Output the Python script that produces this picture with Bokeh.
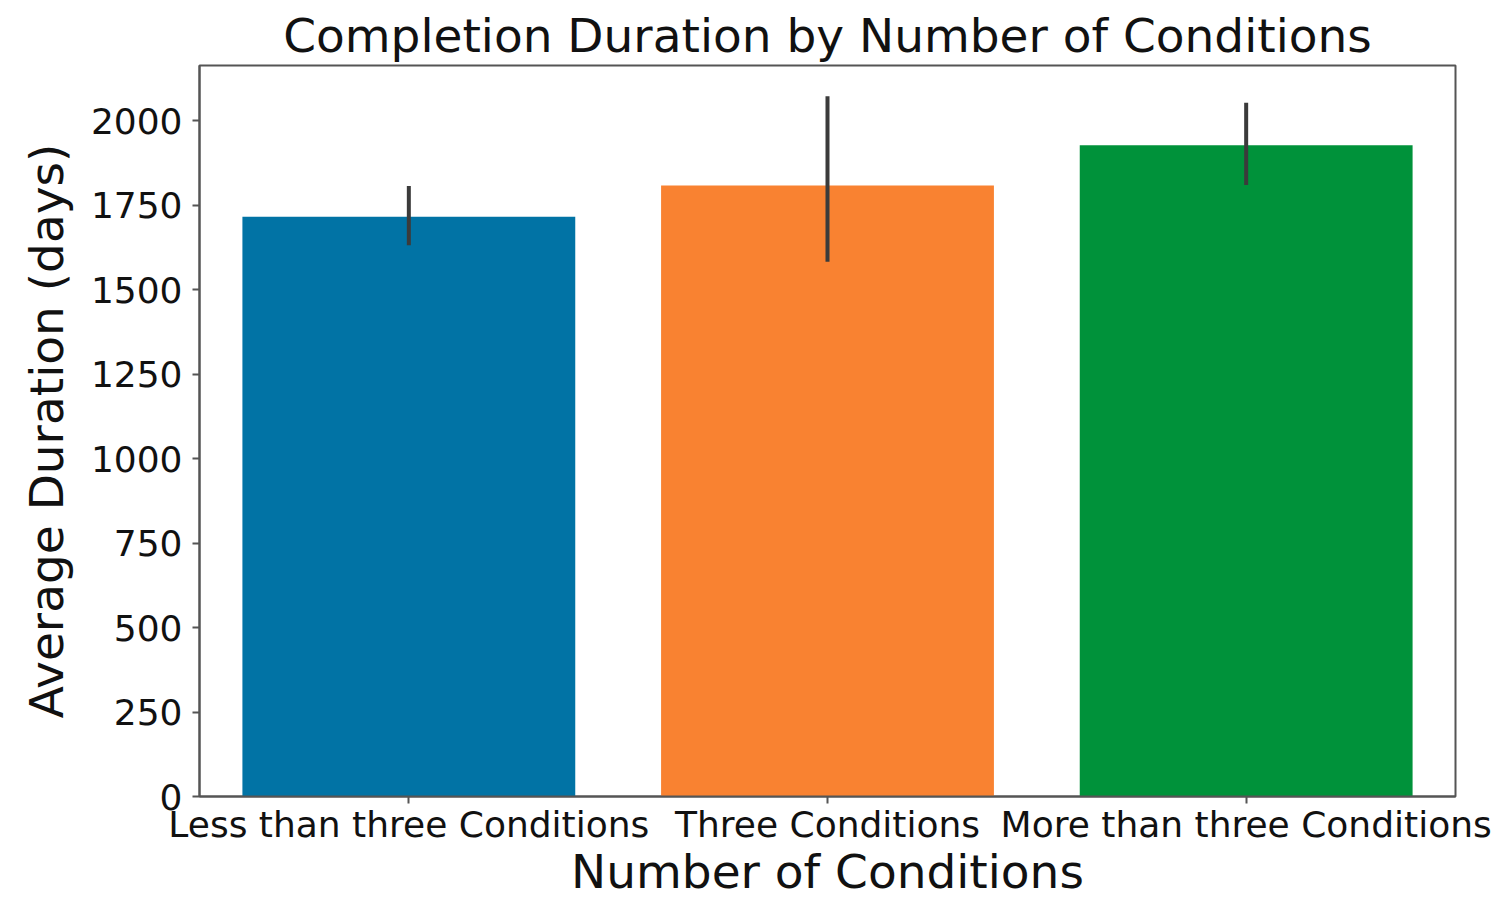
from bokeh.plotting import figure
from bokeh.models import ColumnDataSource, FactorRange, Range1d, FixedTicker
from bokeh.embed import file_html
from bokeh.resources import INLINE

categories = ["Less than three Conditions", "Three Conditions", "More than three Conditions"]
mean_days = [1716, 1809, 1928]
err_low = [1632, 1583, 1810]
err_high = [1807, 2073, 2054]
colors = ["#0173A5", "#F98231", "#00923A"]
y_ticks = [0, 250, 500, 750, 1000, 1250, 1500, 1750, 2000]

FONT = "DejaVu Sans"

src = ColumnDataSource(dict(cat=categories, top=mean_days, lo=err_low, hi=err_high, color=colors))

p = figure(x_range=FactorRange(*categories, range_padding=0), y_range=Range1d(0, 2164),
           width=1496, height=903, output_backend="svg", toolbar_location=None,
           min_border_left=199, min_border_right=41, min_border_top=65, min_border_bottom=107,
           title="Completion Duration by Number of Conditions")

p.vbar(x="cat", top="top", width=0.795, bottom=0, color="color", line_color=None, source=src)
p.segment(x0="cat", y0="lo", x1="cat", y1="hi", line_color="#3b3b3b", line_width=4, source=src)

p.title.text_font = FONT
p.title.text_font_size = "47px"
p.title.text_font_style = "normal"
p.title.align = "center"
p.title.text_color = "#111111"
p.title.standoff = 6

p.xgrid.visible = False
p.ygrid.visible = False
p.outline_line_color = "#555555"
p.outline_line_width = 2

for ax in (p.xaxis[0], p.yaxis[0]):
    ax.axis_line_color = "#555555"
    ax.axis_line_width = 2
    ax.major_tick_line_color = "#555555"
    ax.major_tick_line_width = 2
    ax.major_tick_out = 7
    ax.major_tick_in = 0
    ax.minor_tick_line_color = None
    ax.major_label_text_font = FONT
    ax.major_label_text_font_size = "36px"
    ax.major_label_text_color = "#111111"
    ax.axis_label_text_font = FONT
    ax.axis_label_text_font_size = "47px"
    ax.axis_label_text_font_style = "normal"
    ax.axis_label_text_color = "#111111"

p.yaxis[0].ticker = FixedTicker(ticks=y_ticks)
p.yaxis[0].axis_label = "Average Duration (days)"
p.yaxis[0].major_label_standoff = 10
p.yaxis[0].axis_label_standoff = 14
p.xaxis[0].axis_label = "Number of Conditions"
p.xaxis[0].major_label_standoff = 0
p.xaxis[0].axis_label_standoff = -4
p.xaxis[0].group_text_font_size = "0px"

open("out.html", "w").write(file_html(p, INLINE))
